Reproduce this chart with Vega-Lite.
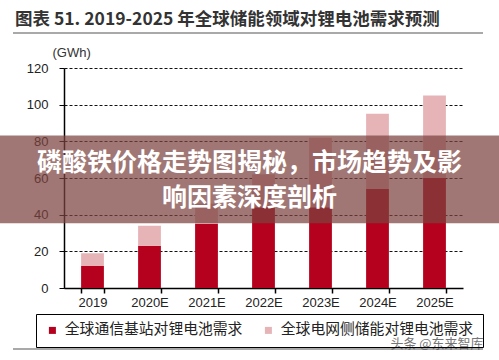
{
  "$schema": "https://vega.github.io/schema/vega-lite/v6.json",
  "width": 399,
  "height": 220,
  "autosize": "none",
  "padding": {"left": 64, "top": 68, "right": 36, "bottom": 72},
  "background": "white",
  "title": {
    "text": "图表 51. 2019-2025 年全球储能领域对锂电池需求预测",
    "anchor": "start",
    "frame": "group",
    "font": "Noto Sans CJK SC",
    "fontSize": 17.5,
    "fontWeight": "bold",
    "color": "#333333",
    "dx": -49,
    "dy": 14,
    "baseline": "middle",
    "offset": 9
  },
  "config": {"view": {"stroke": null}},
  "resolve": {"scale": {"y": "independent"}, "axis": {"y": "independent"}},
  "datasets": {
    "bars": [
      {"year": "2019", "series": "全球通信基站对锂电池需求", "idx": 0, "value": 12},
      {"year": "2019", "series": "全球电网侧储能对锂电池需求", "idx": 1, "value": 7},
      {"year": "2020E", "series": "全球通信基站对锂电池需求", "idx": 0, "value": 23},
      {"year": "2020E", "series": "全球电网侧储能对锂电池需求", "idx": 1, "value": 11},
      {"year": "2021E", "series": "全球通信基站对锂电池需求", "idx": 0, "value": 35},
      {"year": "2021E", "series": "全球电网侧储能对锂电池需求", "idx": 1, "value": 11},
      {"year": "2022E", "series": "全球通信基站对锂电池需求", "idx": 0, "value": 44},
      {"year": "2022E", "series": "全球电网侧储能对锂电池需求", "idx": 1, "value": 18},
      {"year": "2023E", "series": "全球通信基站对锂电池需求", "idx": 0, "value": 44},
      {"year": "2023E", "series": "全球电网侧储能对锂电池需求", "idx": 1, "value": 38},
      {"year": "2024E", "series": "全球通信基站对锂电池需求", "idx": 0, "value": 54},
      {"year": "2024E", "series": "全球电网侧储能对锂电池需求", "idx": 1, "value": 41},
      {"year": "2025E", "series": "全球通信基站对锂电池需求", "idx": 0, "value": 60},
      {"year": "2025E", "series": "全球电网侧储能对锂电池需求", "idx": 1, "value": 45}
    ],
    "banner": [
      {"top": 83.2, "bottom": 35.3}
    ],
    "bannerText": [
      {"line": "磷酸铁价格走势图揭秘，市场趋势及影", "pos": 68.2},
      {"line": "响因素深度剖析", "pos": 49.1}
    ],
    "rules": [
      {"pos": 139.1},
      {"pos": -33.3}
    ],
    "mark": [
      {"label": "头条 @东来智库", "pos": -30.5}
    ]
  },
  "layer": [
    {
      "data": {"name": "bars"},
      "mark": {"type": "bar"},
      "encoding": {
        "x": {
          "field": "year",
          "type": "nominal",
          "sort": null,
          "scale": {"paddingInner": 0.6, "paddingOuter": 0.3},
          "axis": {
            "title": null,
            "labelAngle": 0,
            "tickBand": "extent",
            "domainColor": "#000000",
            "domainWidth": 1.5,
            "tickColor": "#000000",
            "tickWidth": 1.5,
            "tickSize": 5,
            "labelPadding": 3,
            "labelFont": "Liberation Sans",
            "labelFontSize": 13,
            "labelColor": "#222222",
            "grid": false
          }
        },
        "y": {
          "field": "value",
          "type": "quantitative",
          "stack": "zero",
          "scale": {"domain": [0, 120], "nice": false},
          "axis": {
            "title": "(GWh)",
            "titleAngle": 0,
            "titleAlign": "left",
            "titleX": -12,
            "titleY": -16,
            "titleBaseline": "middle",
            "titleFont": "Liberation Sans",
            "titleFontSize": 13,
            "titleFontWeight": "normal",
            "titleColor": "#333333",
            "values": [0, 20, 40, 60, 80, 100, 120],
            "labelOverlap": false,
            "grid": true,
            "gridColor": "#111111",
            "gridDash": [3, 2],
            "gridWidth": 1,
            "domainColor": "#000000",
            "domainWidth": 1.5,
            "tickColor": "#000000",
            "tickSize": 5,
            "labelPadding": 11,
            "labelFont": "Liberation Sans",
            "labelFontSize": 13,
            "labelColor": "#222222"
          }
        },
        "color": {
          "field": "series",
          "type": "nominal",
          "scale": {
            "domain": ["全球通信基站对锂电池需求", "全球电网侧储能对锂电池需求"],
            "range": ["#B5001E", "#E6B4B7"]
          },
          "legend": {
            "title": null,
            "orient": "none",
            "direction": "horizontal",
            "legendX": -28,
            "legendY": 246,
            "padding": 9,
            "strokeColor": "#000000",
            "gridAlign": "none",
            "symbolType": "square",
            "symbolSize": 49,
            "symbolStrokeWidth": 0,
            "labelFont": "Noto Sans CJK SC",
            "labelFontSize": 14.8,
            "labelColor": "#222222",
            "labelOffset": 5,
            "columnPadding": 18,
            "labelLimit": 300
          }
        },
        "order": {"field": "idx", "type": "quantitative"}
      }
    },
    {
      "data": {"name": "rules"},
      "mark": {"type": "rule", "color": "#8c8c8c", "strokeWidth": 1.5},
      "encoding": {
        "y": {"field": "pos", "type": "quantitative", "axis": null, "scale": {"domain": [0, 120], "nice": false}},
        "x": {"value": -51},
        "x2": {"value": 419}
      }
    },
    {
      "data": {"name": "banner"},
      "mark": {"type": "rect", "fill": "#7b433f", "opacity": 0.72},
      "encoding": {
        "y": {"field": "top", "type": "quantitative", "axis": null, "scale": {"domain": [0, 120], "nice": false}},
        "y2": {"field": "bottom"},
        "x": {"value": -64},
        "x2": {"value": 435}
      }
    },
    {
      "data": {"name": "bannerText"},
      "mark": {
        "type": "text",
        "font": "Noto Sans CJK SC",
        "fontSize": 25,
        "fontWeight": "bold",
        "color": "#ffffff",
        "align": "center",
        "baseline": "middle"
      },
      "encoding": {
        "y": {"field": "pos", "type": "quantitative", "axis": null, "scale": {"domain": [0, 120], "nice": false}},
        "x": {"value": 185.5},
        "text": {"field": "line"}
      }
    },
    {
      "data": {"name": "mark"},
      "mark": {
        "type": "text",
        "font": "Noto Sans CJK SC",
        "fontSize": 13,
        "color": "#555555",
        "align": "center",
        "baseline": "middle",
        "opacity": 0.8
      },
      "encoding": {
        "y": {"field": "pos", "type": "quantitative", "axis": null, "scale": {"domain": [0, 120], "nice": false}},
        "x": {"value": 373},
        "text": {"field": "label"}
      }
    }
  ]
}
